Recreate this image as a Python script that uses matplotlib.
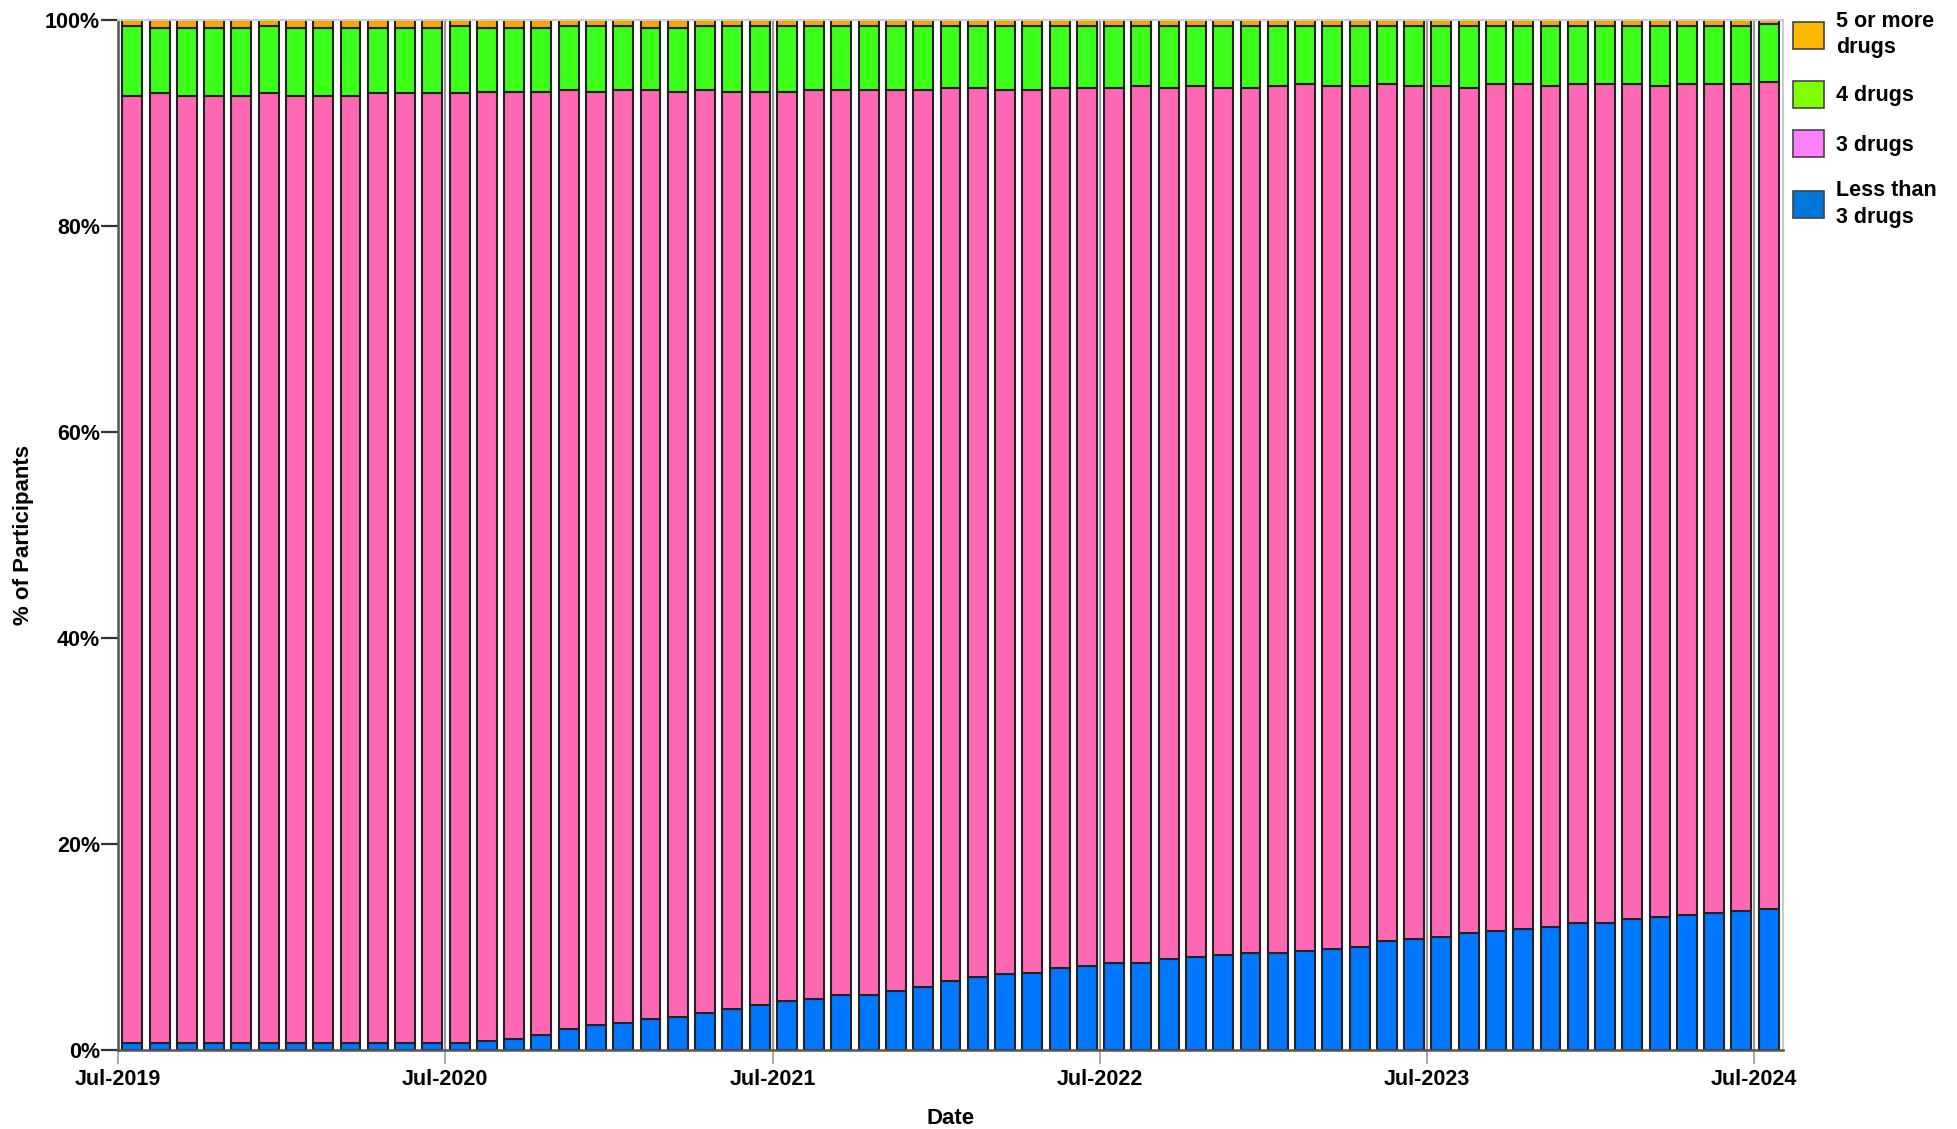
import matplotlib
matplotlib.use("Agg")
import matplotlib.pyplot as plt
from matplotlib.patches import Patch
import numpy as np

plt.rcParams["font.family"] = ["Liberation Sans", "DejaVu Sans"]
plt.rcParams["font.weight"] = "bold"

# monthly series Jul-2019 .. Jul-2024 (61 months), % of participants
months = [f"{m}-{y}" for y in range(2019, 2025) for m in
          ["Jan", "Feb", "Mar", "Apr", "May", "Jun", "Jul", "Aug", "Sep", "Oct", "Nov", "Dec"]][6:67]

less_than_3 = [0.71, 0.71, 0.71, 0.71, 0.71, 0.71, 0.71, 0.71, 0.71, 0.71,
               0.71, 0.71, 0.71, 0.91, 1.10, 1.49, 2.04, 2.43, 2.65, 3.01,
               3.24, 3.62, 3.98, 4.37, 4.79, 4.95, 5.37, 5.37, 5.76, 6.15,
               6.73, 7.12, 7.35, 7.51, 7.96, 8.12, 8.45, 8.45, 8.87, 9.03,
               9.22, 9.42, 9.42, 9.61, 9.77, 10.00, 10.58, 10.78, 11.00, 11.36,
               11.55, 11.75, 11.97, 12.33, 12.33, 12.75, 12.94, 13.14, 13.33, 13.53,
               13.69]
three_drugs = [91.94, 92.17, 91.94, 91.94, 91.94, 92.17, 91.94, 91.94, 91.94, 92.17,
               92.17, 92.17, 92.17, 92.13, 91.94, 91.55, 91.16, 90.61, 90.55, 90.19,
               89.77, 89.58, 89.03, 88.64, 88.22, 88.25, 87.83, 87.83, 87.44, 87.05,
               86.64, 86.25, 85.85, 85.69, 85.41, 85.25, 84.92, 85.14, 84.50, 84.56,
               84.15, 83.95, 84.17, 84.14, 83.82, 83.59, 83.17, 82.81, 82.59, 82.01,
               82.20, 82.00, 81.62, 81.42, 81.42, 81.00, 80.65, 80.61, 80.42, 80.22,
               80.29]
four_drugs = [6.80, 6.38, 6.61, 6.61, 6.61, 6.57, 6.61, 6.61, 6.61, 6.38,
              6.38, 6.38, 6.57, 6.22, 6.22, 6.22, 6.25, 6.41, 6.25, 6.06,
              6.18, 6.25, 6.44, 6.44, 6.44, 6.25, 6.25, 6.25, 6.25, 6.25,
              6.08, 6.08, 6.25, 6.25, 6.08, 6.08, 6.08, 5.86, 6.08, 5.86,
              6.08, 6.08, 5.86, 5.70, 5.86, 5.86, 5.70, 5.86, 5.86, 6.08,
              5.70, 5.70, 5.86, 5.70, 5.70, 5.70, 5.86, 5.70, 5.70, 5.70,
              5.60]
five_plus = [0.55, 0.74, 0.74, 0.74, 0.74, 0.55, 0.74, 0.74, 0.74, 0.74,
             0.74, 0.74, 0.55, 0.74, 0.74, 0.74, 0.55, 0.55, 0.55, 0.74,
             0.81, 0.55, 0.55, 0.55, 0.55, 0.55, 0.55, 0.55, 0.55, 0.55,
             0.55, 0.55, 0.55, 0.55, 0.55, 0.55, 0.55, 0.55, 0.55, 0.55,
             0.55, 0.55, 0.55, 0.55, 0.55, 0.55, 0.55, 0.55, 0.55, 0.55,
             0.55, 0.55, 0.55, 0.55, 0.55, 0.55, 0.55, 0.55, 0.55, 0.55,
             0.42]

tick_labels = ["Jul-2019", "Jul-2020", "Jul-2021", "Jul-2022", "Jul-2023", "Jul-2024"]

series = [
    ("Less than\n3 drugs", less_than_3, "#0077FF", "#0077DD"),
    ("3 drugs", three_drugs, "#FF69B4", "#FF80FF"),
    ("4 drugs", four_drugs, "#3CFF1A", "#80FF00"),
    ("5 or more\ndrugs", five_plus, "#FFA500", "#FFB800"),
]

fig = plt.figure(figsize=(19.57, 11.29), dpi=100)
ax = fig.add_axes([118 / 1957, 1 - 1050 / 1129, (1783 - 118) / 1957, (1050 - 20) / 1129])

x = np.arange(len(months))
ticks = x[::12]
for t in ticks:
    ax.axvline(t, color="#999999", lw=1.6, zorder=1)

bottom = np.zeros(len(months))
for label, values, color, _ in series:
    values = np.asarray(values)
    ax.bar(x + 0.525, values, width=0.73, bottom=bottom, color=color,
           edgecolor="#222222", linewidth=1.5, zorder=2)
    bottom += values

ax.set_xlim(0, 61.05)
ax.set_ylim(0, 100)
ax.set_xticks(ticks)
ax.set_xticklabels(tick_labels)
ax.set_yticks(np.arange(0, 101, 20))
ax.set_yticklabels([f"{v}%" for v in range(0, 101, 20)])
ax.tick_params(axis="x", length=10, width=1.2, color="#999999", pad=4, labelsize=15.5)
ax.tick_params(axis="y", length=12, width=1.6, color="#333333", pad=1, labelsize=15.5)
for lbl in ax.get_xticklabels() + ax.get_yticklabels():
    lbl.set_fontweight("bold")

for side in ("left", "bottom"):
    ax.spines[side].set_color("#555555")
    ax.spines[side].set_linewidth(1.8)
for side in ("top", "right"):
    ax.spines[side].set_color("#cccccc")
    ax.spines[side].set_linewidth(1.5)

ax.set_xlabel("Date", fontsize=16, fontweight="bold", va="center")
ax.xaxis.set_label_coords(0.5, (1050 - 1119) / 1030)
ax.set_ylabel("% of Participants", fontsize=16, fontweight="bold", va="center")
ax.yaxis.set_label_coords((24 - 118) / 1665, 0.5)

handles = [Patch(facecolor=leg_color, edgecolor="#444444", linewidth=1.2, label=label)
           for label, _, _, leg_color in series[::-1]]
leg = fig.legend(handles=handles, loc="upper left", bbox_to_anchor=(1784 / 1957, 1 - 2 / 1129),
                 frameon=False, handlelength=1.45, handleheight=1.55,
                 handletextpad=0.55, labelspacing=1.05, borderaxespad=0,
                 prop={"weight": "bold", "size": 15.5})
for txt in leg.get_texts():
    txt.set_linespacing(1.35)

fig.savefig("out.png", dpi=100, facecolor="white")
plt.close(fig)
